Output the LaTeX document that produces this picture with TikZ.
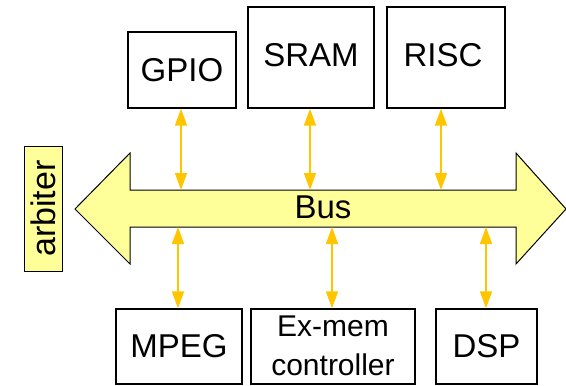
\documentclass[tikz,border=0pt]{standalone}
\usepackage{fontspec}
\setmainfont{Liberation Sans}
\usetikzlibrary{arrows.meta}
\definecolor{busfill}{HTML}{FFFF99}
\definecolor{linkcol}{HTML}{FFC600}
\tikzset{
  unit/.style={draw=black, line width=1.3pt, fill=white, inner sep=0pt},
  link/.style={draw=linkcol, line width=1.6pt, {Triangle[width=12pt,length=17pt]}-{Triangle[width=12pt,length=17pt]}},
  big/.style={font=\fontsize{33}{38}\selectfont},
}
\begin{document}
\begin{tikzpicture}[x=1pt,y=-1pt]
\useasboundingbox (0,0) rectangle (566,386);
% bus body: double-headed block arrow
\draw[fill=busfill, line width=1pt, line join=miter]
  (75,209) -- (130,153) -- (130,190) -- (516,190) -- (516,153) -- (566,209)
  -- (516,264) -- (516,227) -- (130,227) -- (130,264) -- cycle;
\node[big] (bus) at (323,207) {Bus};
\coordinate (bt1) at (181,190);
\coordinate (bt2) at (310,190);
\coordinate (bt3) at (441,190);
\coordinate (bb1) at (178,227);
\coordinate (bb2) at (332,227);
\coordinate (bb3) at (486,227);
% arbiter
\node[draw=black, line width=1pt, fill=busfill, inner sep=0pt, minimum width=38pt, minimum height=125pt] (arb) at (43,208.5) {};
\node[rotate=90, font=\fontsize{34}{38}\selectfont] at (arb.center) {arbiter};
% upper units
\node[unit, big, minimum width=108pt, minimum height=76pt] (gpio) at (182,70) {GPIO};
\node[unit, minimum width=126pt, minimum height=101pt] (sram) at (311,57.5) {};
\node[big] at (311,55) {SRAM};
\node[unit, minimum width=118pt, minimum height=101pt] (risc) at (446,57.5) {};
\node[big] at (443,55) {RISC};
% lower units
\node[unit, big, minimum width=126pt, minimum height=75pt] (mpeg) at (179,346.5) {MPEG};
\node[unit, minimum width=164pt, minimum height=75pt] (exmem) at (333,346.5) {};
\node[font=\fontsize{30}{39}\selectfont, align=center] at (333,346) {Ex-mem\\controller};
\node[unit, big, minimum width=101pt, minimum height=75pt] (dsp) at (486.5,346.5) {DSP};
% links between units and bus
\draw[link] (gpio.south -| bt1) -- (bt1);
\draw[link] (sram.south -| bt2) -- (bt2);
\draw[link] (risc.south -| bt3) -- (bt3);
\draw[link] (bb1) -- (mpeg.north -| bb1);
\draw[link] (bb2) -- (exmem.north -| bb2);
\draw[link] (bb3) -- (dsp.north -| bb3);
\end{tikzpicture}
\end{document}
